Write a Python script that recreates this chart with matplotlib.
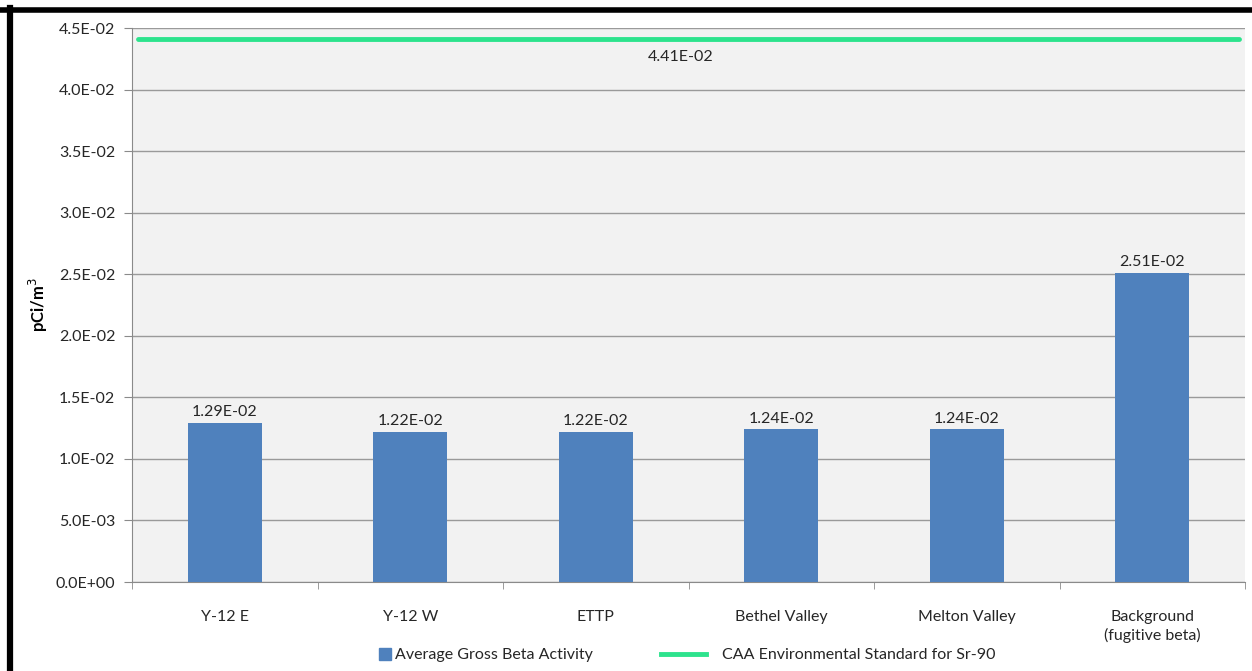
import matplotlib
matplotlib.use("Agg")
import matplotlib.pyplot as plt
from matplotlib.lines import Line2D
from matplotlib.ticker import FuncFormatter
import numpy as np

categories = ["Y-12 E", "Y-12 W", "ETTP", "Bethel Valley", "Melton Valley",
              "Background\n(fugitive beta)"]
beta_activity = [0.0129, 0.0122, 0.0122, 0.0124, 0.0124, 0.0251]
sr90_standard = 0.0441
yticks = np.arange(0, 0.0451, 0.005)

plt.rcParams['font.family'] = ['Lato', 'DejaVu Sans']
bar_color = '#4F81BD'
line_color = '#2DE38D'
text_color = '#262626'
fs = 11.5

fig = plt.figure(figsize=(12.52, 6.71), dpi=100)
ax = fig.add_axes([132 / 1252, 1 - 582 / 671, (1245 - 132) / 1252, (582 - 28) / 671])
ax.set_facecolor('#F2F2F2')

x = np.arange(len(categories))
ax.bar(x, beta_activity, width=0.4, color=bar_color, zorder=3)
for xi, v in zip(x, beta_activity):
    ax.text(xi, v + 0.0003, f"{v:.2E}", ha='center', va='bottom',
            fontsize=fs, color=text_color, zorder=4)

ax.plot([-0.47, len(categories) - 0.53], [sr90_standard, sr90_standard],
        color=line_color, lw=3.5, solid_capstyle='round', zorder=4)
ax.text((len(categories) - 1) / 2 - 0.04, sr90_standard - 0.0009, f"{sr90_standard:.2E}",
        ha='center', va='top', fontsize=fs, color=text_color)

ax.set_xlim(-0.5, len(categories) - 0.5)
ax.set_ylim(0, 0.045)
ax.set_yticks(yticks)
ax.yaxis.set_major_formatter(FuncFormatter(lambda v, p: f"{v:.1E}"))
ax.grid(axis='y', color='#9A9A9A', lw=1, zorder=1)
ax.set_xticks(x)
ax.set_xticklabels(categories, fontsize=fs, color=text_color, linespacing=1.35)
ax.set_xticks(np.arange(-0.5, len(categories)), minor=True)
ax.tick_params(axis='x', which='major', length=0, pad=20)
ax.tick_params(axis='x', which='minor', length=5, color='#8A8A8A')
ax.tick_params(axis='y', length=6, color='#8A8A8A', labelsize=fs,
               labelcolor=text_color, pad=6)
for s in ['top', 'right']:
    ax.spines[s].set_visible(False)
for s in ['left', 'bottom']:
    ax.spines[s].set_color('#8A8A8A')

ax.set_ylabel("pCi/m$^3$", fontsize=12, fontweight='bold', color='black', labelpad=4)

bar_handle = Line2D([0], [0], color=bar_color, marker='s', markersize=8, lw=0,
                    label="Average Gross Beta Activity")
line_handle = Line2D([0], [0], color=line_color, lw=3.5,
                     label="CAA Environmental Standard for Sr-90")
fig.legend(handles=[bar_handle], loc='center',
           bbox_to_anchor=(486 / 1252, 1 - 655 / 671), frameon=False,
           fontsize=fs, handlelength=0.7, handletextpad=0.3, labelcolor=text_color)
fig.legend(handles=[line_handle], loc='center',
           bbox_to_anchor=(828 / 1252, 1 - 655 / 671), frameon=False,
           fontsize=fs, handlelength=2.8, handletextpad=1.0, labelcolor=text_color)

# black frame on top and left, as in the cropped screenshot
fig.add_artist(Line2D([0, 1], [1 - 10 / 671, 1 - 10 / 671], color='black', lw=4,
                      transform=fig.transFigure))
fig.add_artist(Line2D([9.5 / 1252, 9.5 / 1252], [0, 1 - 8 / 671], color='black', lw=4.5,
                      transform=fig.transFigure))

fig.savefig("out.png", dpi=100)
